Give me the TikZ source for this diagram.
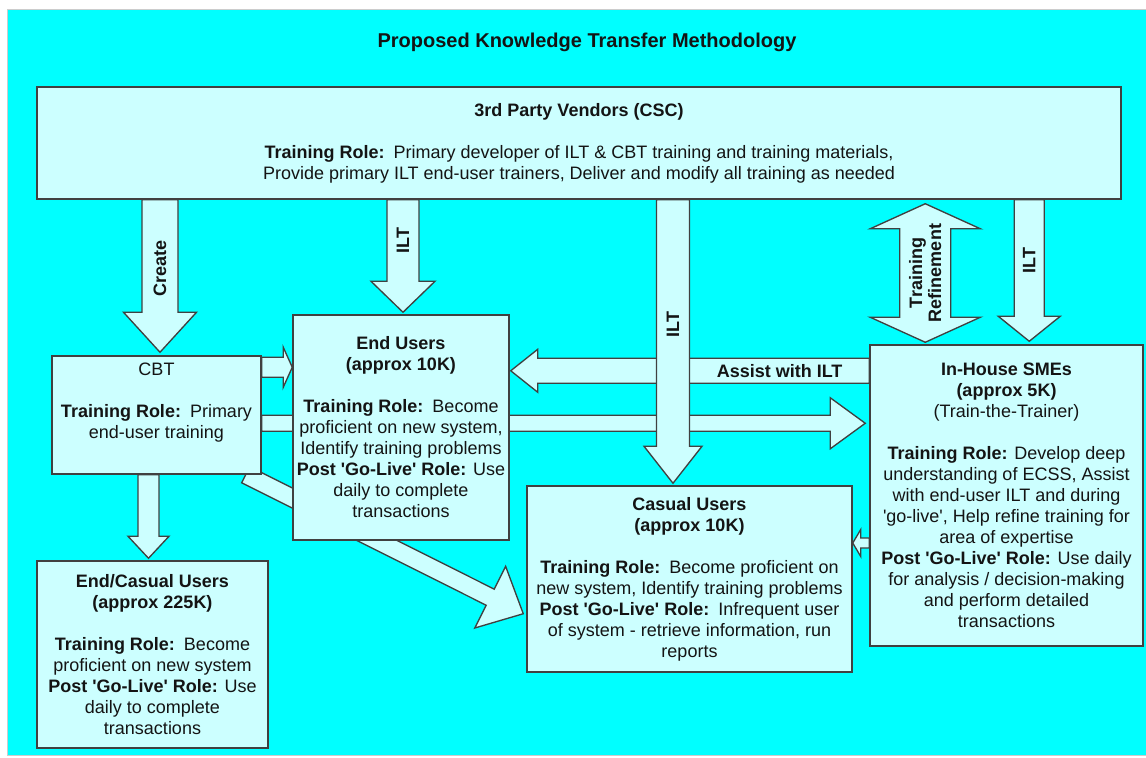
\documentclass[tikz,border=0pt]{standalone}
\usepackage{fontspec}
\setmainfont{Liberation Sans}
\usetikzlibrary{calc}

\definecolor{bgcyan}{HTML}{00FFFF}
\definecolor{boxfill}{HTML}{CCFFFF}
\definecolor{boxline}{HTML}{404040}
\definecolor{inktext}{HTML}{141414}

\pgfdeclarelayer{background}
\pgfsetlayers{background,main}

\newcommand{\squote}{\textquotesingle}

% fat arrow: from, to, half shaft, half head, head length (all in px)
\newcommand{\blockarrow}[5]{%
  \coordinate (ha) at ($(#2)!#5*0.75pt!(#1)$);
  \draw[blockarrow] ($(#1)!#3*0.75pt!90:(#2)$) -- ($(ha)!#3*0.75pt!90:(#2)$)
    -- ($(ha)!#4*0.75pt!90:(#2)$) -- (#2) -- ($(ha)!#4*0.75pt!-90:(#2)$)
    -- ($(ha)!#3*0.75pt!-90:(#2)$) -- ($(#1)!#3*0.75pt!-90:(#2)$) -- cycle;
}
% fat arrow with a head at both ends
\newcommand{\dblarrow}[5]{%
  \coordinate (da) at ($(#1)!#5*0.75pt!(#2)$);
  \coordinate (db) at ($(#2)!#5*0.75pt!(#1)$);
  \draw[blockarrow] (#1) -- ($(da)!#4*0.75pt!90:(#2)$) -- ($(da)!#3*0.75pt!90:(#2)$)
    -- ($(db)!#3*0.75pt!90:(#2)$) -- ($(db)!#4*0.75pt!90:(#2)$) -- (#2)
    -- ($(db)!#4*0.75pt!-90:(#2)$) -- ($(db)!#3*0.75pt!-90:(#2)$)
    -- ($(da)!#3*0.75pt!-90:(#2)$) -- ($(da)!#4*0.75pt!-90:(#2)$) -- cycle;
}

\begin{document}
\begin{tikzpicture}[x=0.75pt, y=-0.75pt,
    box/.style={draw=boxline, fill=boxfill, line width=1.1pt, align=center,
      inner sep=0pt, text=inktext, font=\fontsize{13.5}{15.75}\selectfont},
    blockarrow/.style={draw=boxline, fill=boxfill, line width=1pt, line join=miter},
    arrlabel/.style={text=inktext, font=\bfseries\fontsize{13.5}{14.25}\selectfont, align=center}]
  \useasboundingbox (0,0) rectangle (1146,757);

  \node[text=inktext, font=\bfseries\fontsize{15}{18}\selectfont] (title) at (587,42)
    {Proposed Knowledge Transfer Methodology};

  \node[box, minimum width=813pt, minimum height=84pt] (vend) at (579,143)
    {\textbf{3rd Party Vendors (CSC)}\\[15.75pt]
     \textbf{Training Role:}\enspace Primary developer of ILT \& CBT training and training materials,\\
     Provide primary ILT end-user trainers, Deliver and modify all training as needed};
  \node[box, minimum width=156.75pt, minimum height=88.5pt] (cbt) at (156.5,415)
    {CBT\\[15.75pt]
     \textbf{Training Role:}\enspace Primary\\end-user training\\[6pt]~};
  \node[box, minimum width=162pt, minimum height=168.75pt] (eu) at (401,427.5)
    {\textbf{End Users}\\\textbf{(approx 10K)}\\[15.75pt]
     \textbf{Training Role:}\enspace Become\\proficient on new system,\\Identify training problems\\
     \textbf{Post \squote Go-Live\squote\ Role:} Use\\daily to complete\\transactions};
  \node[box, minimum width=173.25pt, minimum height=140.25pt] (ecu) at (152.5,654.5)
    {\textbf{End/Casual Users}\\\textbf{(approx 225K)}\\[15.75pt]
     \textbf{Training Role:}\enspace Become\\proficient on new system\\
     \textbf{Post \squote Go-Live\squote\ Role:} Use\\daily to complete\\transactions};
  \node[box, minimum width=243.75pt, minimum height=139.5pt] (cas) at (689.5,579)
    {\textbf{Casual Users}\\\textbf{(approx 10K)}\\[15.75pt]
     \textbf{Training Role:}\enspace Become proficient on\\new system, Identify training problems\\
     \textbf{Post \squote Go-Live\squote\ Role:}\enspace Infrequent user\\
     of system - retrieve information, run\\reports};
  \node[box, minimum width=204.75pt, minimum height=225.75pt] (sme) at (1006.5,495.5)
    {\textbf{In-House SMEs}\\\textbf{(approx 5K)}\\(Train-the-Trainer)\\[15.75pt]
     \textbf{Training Role:} Develop deep\\understanding of ECSS, Assist\\
     with end-user ILT and during\\\squote go-live\squote, Help refine training for\\
     area of expertise\\
     \textbf{Post \squote Go-Live\squote\ Role:} Use daily\\for analysis / decision-making\\
     and perform detailed\\transactions};

  % arrow ends
  \coordinate (t1) at ($(cbt.north)+(3.5,-3)$);
  \coordinate (s1) at (vend.south -| t1);
  \coordinate (t2) at ($(eu.north)+(2,-2)$);
  \coordinate (s2) at (vend.south -| t2);
  \coordinate (t3) at ($(cas.north)+(-16.5,-2)$);
  \coordinate (s3) at (vend.south -| t3);
  \coordinate (t4) at ($(sme.north west)+(56,-2)$);
  \coordinate (s4) at ($(vend.south -| t4)+(0,4)$);
  \coordinate (t5) at ($(sme.north west)+(160,-3)$);
  \coordinate (s5) at (vend.south -| t5);
  \coordinate (t6) at ($(eu.north east)+(1,56.5)$);
  \coordinate (s6) at (t6 -| sme.west);
  \coordinate (s7) at ($(cbt.north east)+(0,12)$);
  \coordinate (t7) at (s7 -| eu.west);
  \coordinate (s8) at ($(cbt.north east)+(0,68)$);
  \coordinate (t8) at ($(s8 -| sme.west)+(-4,0)$);
  \coordinate (s9) at ($(sme.west)+(0,47.5)$);
  \coordinate (t9) at (s9 -| cas.east);
  \coordinate (t10) at ($(ecu.north)+(-4,-2)$);
  \coordinate (s10) at (cbt.south -| t10);
  \coordinate (s11) at ($(cbt.south east)+(-16,0)$);
  \coordinate (t11) at ($(cas.south west)+(-3,-59)$);

  \begin{pgfonlayer}{background}
    \draw[fill=bgcyan, draw=black!20] (7,9) rectangle (1150,755);
    \blockarrow{s6}{t6}{12.5}{21.5}{27}
    \blockarrow{s7}{t7}{10}{20}{9}
    \blockarrow{s8}{t8}{8}{25.5}{35}
    \blockarrow{s3}{t3}{16.5}{29}{37}
    \blockarrow{s1}{t1}{18}{36.5}{40}
    \blockarrow{s2}{t2}{16}{32}{31}
    \dblarrow{s4}{t4}{25.5}{55}{25}
    \blockarrow{s5}{t5}{15}{31}{25}
    \blockarrow{s9}{t9}{5}{13.5}{8}
    \blockarrow{s10}{t10}{10.5}{20.5}{22}
    \blockarrow{s11}{t11}{9}{34.5}{37}
  \end{pgfonlayer}

  \node[arrlabel, rotate=90] (lcreate) at ($(s1)!0.45!(t1)$) {Create};
  \node[arrlabel, rotate=90] (lilta) at ($(s2)!0.36!(t2)$) {ILT};
  \node[arrlabel, rotate=90] (liltb) at ($(s3)!0.44!(t3)$) {ILT};
  \node[arrlabel, rotate=90] (lrefine) at ($(s4)!0.5!(t4)$) {Training\\Refinement};
  \node[arrlabel, rotate=90] (liltc) at ($(s5)!0.43!(t5)$) {ILT};
  \node[arrlabel] (lassist) at ($(s6)!0.25!(t6)$) {Assist with ILT};
\end{tikzpicture}
\end{document}
